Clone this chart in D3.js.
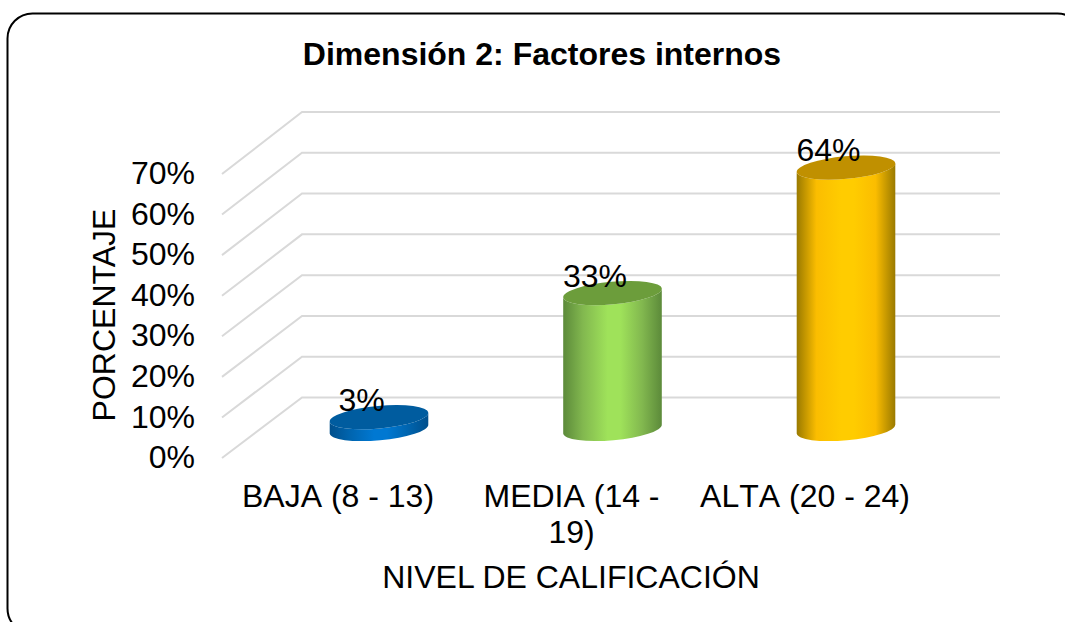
<!DOCTYPE html>
<html><head><meta charset="utf-8">
<script src="https://cdn.jsdelivr.net/npm/d3@7"></script>
<style>html,body{margin:0;padding:0;background:#fff;overflow:hidden}svg{display:block}
text{font-family:"Liberation Sans",Arial,sans-serif;fill:#000}</style></head><body>
<svg id="c" width="1065" height="622"></svg>
<script>
const titleText = "Dimensión 2: Factores internos";
const xTitle = "NIVEL DE CALIFICACIÓN";
const yTitle = "PORCENTAJE";
const categories = ["BAJA (8 - 13)", "MEDIA (14 - 19)", "ALTA (20 - 24)"];
const values = [2.9, 33.4, 64.2];
const valueLabels = ["3%", "33%", "64%"];
const yTicks = [0, 10, 20, 30, 40, 50, 60, 70];
const edgeColors = ["#004f8c", "#5c8a3a", "#9a7a00"];
const midColors = ["#0078d2", "#9fe25a", "#ffcc00"];
const sideColors = ["#0064ae", "#82b84f", "#fbbd00"];
const topColors = ["#005c9f", "#6c9d3b", "#c09000"];

const svg = d3.select("#c");
svg.append("rect").attr("x",7.5).attr("y",13.5).attr("width",1075).attr("height",620)
  .attr("rx",25).attr("ry",25).attr("fill","#fff").attr("stroke","#000").attr("stroke-width",2);

const yFront = d3.scaleLinear().domain([0,70]).range([458,174]);
const yBack  = d3.scaleLinear().domain([0,70]).range([397.5,112]);
const yBar   = d3.scaleLinear().domain([0,70]).range([429,144]);
const x = d3.scalePoint().domain(categories).range([379,846]);
const rx = 49.5, ry = 11.3, rot = -5.2;
const dyEdge = rx*Math.sin(rot*Math.PI/180), dxEdge = rx*Math.cos(rot*Math.PI/180);
const xFrontEdge = 222, xBackEdge = 302, xRight = 1000;

const grid = svg.append("g").attr("fill","none").attr("stroke","#d9d9d9").attr("stroke-width",2);
grid.selectAll("path").data(yTicks).join("path").attr("d", t => {
  const p = d3.path();
  p.moveTo(xFrontEdge, yFront(t)); p.lineTo(xBackEdge, yBack(t)); p.lineTo(xRight, yBack(t));
  return p.toString();
});

const defs = svg.append("defs");
categories.forEach((c,i)=>{
  const g = defs.append("linearGradient").attr("id","g"+i).attr("x1","0").attr("x2","1").attr("y1","0").attr("y2","0");
  [[0,edgeColors[i]],[.2,sideColors[i]],[.45,midColors[i]],[.58,midColors[i]],[.8,sideColors[i]],[1,edgeColors[i]]]
    .forEach(([o,col])=>g.append("stop").attr("offset",o).attr("stop-color",col));
});

const bars = svg.append("g").selectAll("g").data(categories).join("g");
bars.append("path").attr("fill",(c,i)=>`url(#g${i})`).attr("d",(c,i)=>{
  const cx=x(c), b=yBar(0), t=yBar(values[i]);
  return `M${cx-dxEdge},${t-dyEdge} L${cx-dxEdge},${b-dyEdge} A${rx},${ry} ${rot} 0 0 ${cx+dxEdge},${b+dyEdge} L${cx+dxEdge},${t+dyEdge} A${rx},${ry} ${rot} 0 1 ${cx-dxEdge},${t-dyEdge} Z`;
});
bars.append("ellipse").attr("rx",rx).attr("ry",ry).attr("fill",(c,i)=>topColors[i])
  .attr("transform",(c,i)=>`translate(${x(c)},${yBar(values[i])}) rotate(${rot})`);

svg.append("g").selectAll("text").data(categories).join("text")
  .attr("x",c=>x(c)-17.5).attr("y",(c,i)=>yBar(values[i])-18).attr("dy","0.36em")
  .attr("text-anchor","middle").attr("font-size",32).text((c,i)=>valueLabels[i]);

const axisY = svg.append("g").attr("transform","translate(195,0)")
  .call(d3.axisLeft(yFront).tickValues(yTicks).tickSize(0).tickPadding(0).tickFormat(d=>d+"%"));
axisY.select(".domain").remove();
axisY.selectAll("text").attr("font-size",32).attr("font-family",null).attr("dy","0.3em");

const catG = svg.append("g").style("font-kerning","none");
catG.selectAll("text").data(categories).join("text")
  .attr("text-anchor","middle").attr("font-size",32)
  .each(function(c){
    const el = d3.select(this), words = c.split(" ");
    let line = [], n = 0;
    const add = s => el.append("tspan").attr("x",x(c)-41).attr("y",507+36*n++).text(s);
    let ts = add("");
    words.forEach(w=>{
      line.push(w); ts.text(line.join(" "));
      if (ts.node().getComputedTextLength()>215 && line.length>1){
        line.pop(); ts.text(line.join(" ")); line=[w]; ts=add(w);
      }
    });
  });

svg.append("text").attr("x",571).attr("y",588).attr("text-anchor","middle").attr("font-size",32).text(xTitle);
svg.append("text").attr("transform","translate(115,315) rotate(-90)").attr("text-anchor","middle").attr("font-size",32).text(yTitle);
svg.append("text").attr("x",542).attr("y",65).attr("text-anchor","middle").attr("font-size",32).attr("font-weight","bold").text(titleText);
</script></body></html>
